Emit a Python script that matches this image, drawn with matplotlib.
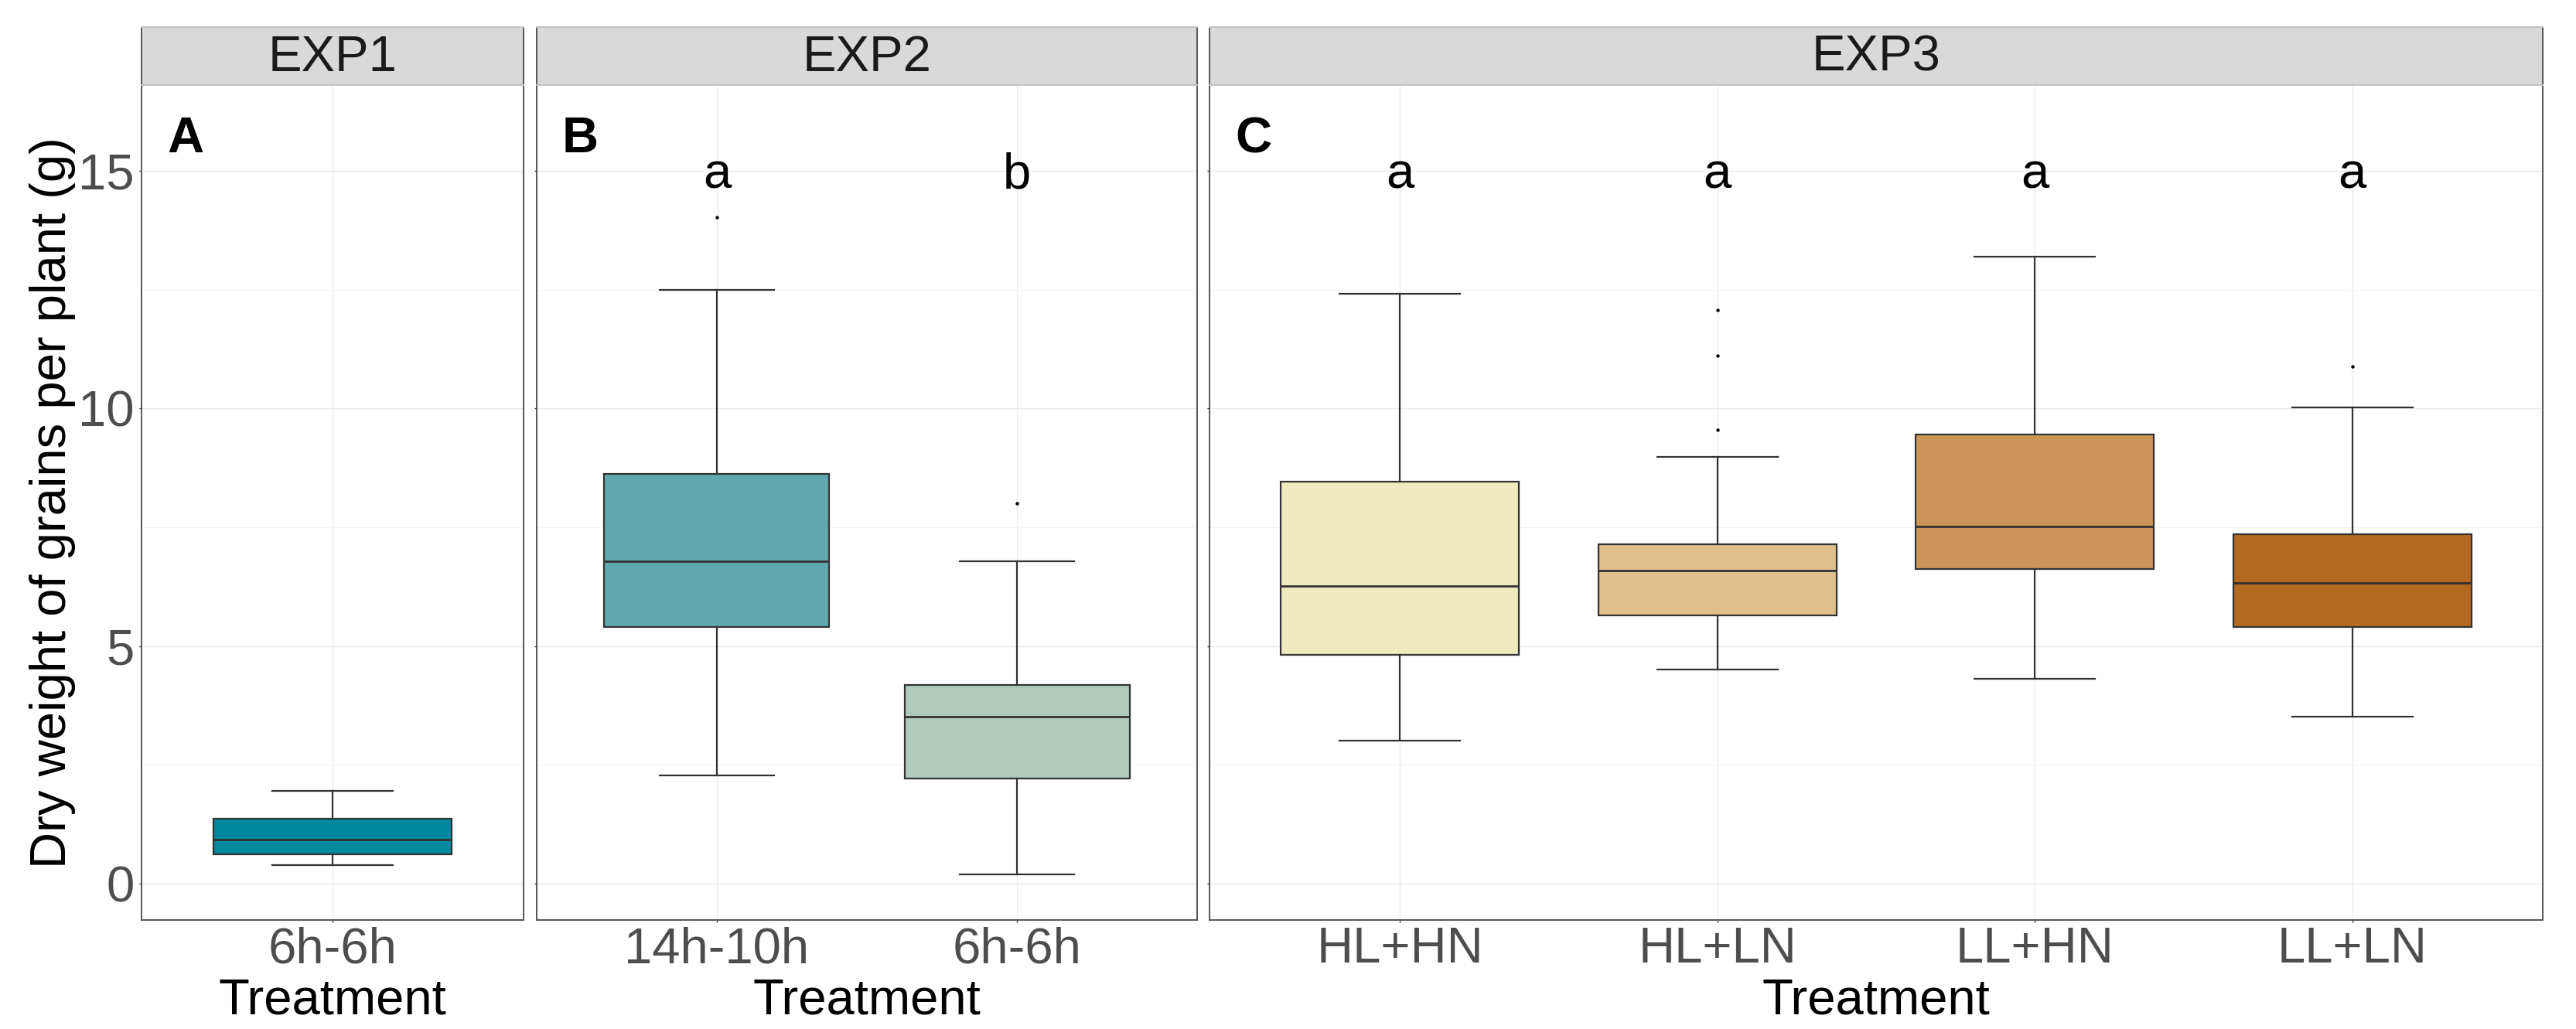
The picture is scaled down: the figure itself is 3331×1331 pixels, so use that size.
import matplotlib
matplotlib.use("Agg")
import matplotlib.pyplot as plt
from matplotlib.ticker import MultipleLocator

plt.rcParams["font.family"] = ["Liberation Sans", "DejaVu Sans"]

# -----------------------------
# Data
# -----------------------------

EXPERIMENTS = ["EXP1", "EXP2", "EXP3"]
PANEL_TAGS = ["A", "B", "C"]
TREATMENTS = [["6h-6h"], ["14h-10h", "6h-6h"], ["HL+HN", "HL+LN", "LL+HN", "LL+LN"]]

WHISKER_LOW = [[0.39], [2.28, 0.20], [3.01, 4.50, 4.32, 3.51]]
Q1 = [[0.62], [5.41, 2.22], [4.82, 5.64, 6.63, 5.40]]
MEDIAN = [[0.93], [6.78, 3.52], [6.26, 6.59, 7.51, 6.33]]
Q3 = [[1.36], [8.62, 4.19], [8.47, 7.14, 9.45, 7.36]]
WHISKER_HIGH = [[1.96], [12.49, 6.78], [12.42, 8.99, 13.19, 10.03]]
OUTLIERS = [[[]], [[14.02], [8.01]], [[], [9.56, 11.12, 12.07], [], [10.88]]]

SIG_LETTERS = [[], ["a", "b"], ["a", "a", "a", "a"]]
SIG_Y = 14.63

# -----------------------------
# Style
# -----------------------------

BOX_COLORS = [["#00889F"], ["#5FA8AE", "#AFC9BA"],
              ["#EEEBC0", "#DFBF8C", "#CC9456", "#B3691F"]]

W, H = 3331, 1331
PANEL_X = [(183, 677), (694, 1548), (1564, 3288)]
PANEL_TOP, PANEL_BOTTOM = 110, 1190
STRIP_TOP = 35
Y_LIM = (-0.765, 16.81)
FS = 47
EDGE = "#333333"
BORDER = "#555555"


def px_rect(x0, x1, top, bottom):
    return [x0 / W, 1 - bottom / H, (x1 - x0) / W, (bottom - top) / H]


fig = plt.figure(figsize=(W / 100, H / 100), dpi=100)

for i, exp in enumerate(EXPERIMENTS):
    x0, x1 = PANEL_X[i]
    ax = fig.add_axes(px_rect(x0, x1, PANEL_TOP, PANEL_BOTTOM))
    n = len(TREATMENTS[i])
    positions = list(range(1, n + 1))

    stats = []
    for j in range(n):
        stats.append(dict(whislo=WHISKER_LOW[i][j], q1=Q1[i][j], med=MEDIAN[i][j],
                          q3=Q3[i][j], whishi=WHISKER_HIGH[i][j], fliers=OUTLIERS[i][j]))

    bp = ax.bxp(stats, positions=positions, widths=0.75, capwidths=0.38,
                patch_artist=True, manage_ticks=False,
                boxprops=dict(edgecolor=EDGE, linewidth=1.6),
                medianprops=dict(color=EDGE, linewidth=2.0),
                whiskerprops=dict(color=EDGE, linewidth=1.6),
                capprops=dict(color=EDGE, linewidth=1.6),
                flierprops=dict(marker="o", markersize=2.2, markerfacecolor="black",
                                markeredgecolor="black", linestyle="none"))
    for patch, color in zip(bp["boxes"], BOX_COLORS[i]):
        patch.set_facecolor(color)

    ax.set_xlim(0.4, n + 0.6)
    ax.set_ylim(*Y_LIM)
    ax.set_xticks(positions)
    ax.set_xticklabels(TREATMENTS[i])
    ax.yaxis.set_major_locator(MultipleLocator(5))
    ax.yaxis.set_minor_locator(MultipleLocator(2.5))
    ax.set_axisbelow(True)
    ax.grid(which="major", color="#EBEBEB", linewidth=1.0)
    ax.grid(which="minor", axis="y", color="#F2F2F2", linewidth=0.6)

    ax.tick_params(axis="both", which="major", length=2.2, width=1.0, color=EDGE,
                   labelsize=FS, labelcolor="#4D4D4D")
    ax.tick_params(axis="x", pad=3.6)
    ax.tick_params(axis="y", pad=4.3)
    ax.tick_params(which="minor", length=0)
    if i > 0:
        ax.tick_params(axis="y", labelleft=False)
    for spine in ax.spines.values():
        spine.set_color(BORDER)
        spine.set_linewidth(1.4)

    # panel tag
    ax.text(33 / (x1 - x0), 15.39, PANEL_TAGS[i], transform=ax.get_yaxis_transform(),
            ha="left", va="baseline", fontsize=FS, fontweight="bold", color="black")

    # significance letters
    for pos, letter in zip(positions, SIG_LETTERS[i]):
        ax.text(pos, SIG_Y, letter, ha="center", va="baseline", fontsize=FS, color="black")

    # facet strip
    sax = fig.add_axes(px_rect(x0, x1, STRIP_TOP, PANEL_TOP))
    sax.set_facecolor("#D9D9D9")
    sax.set_xticks([])
    sax.set_yticks([])
    for name, spine in sax.spines.items():
        spine.set_linewidth(1.4)
        spine.set_color(BORDER if name in ("left", "right") else "#C4C4C4")
    sax.text(0.5, 18 / 75, exp, ha="center", va="baseline", fontsize=FS, color="#1A1A1A",
             transform=sax.transAxes)

    # x axis title
    fig.text((x0 + x1) / 2 / W, 1 - 1312 / H, "Treatment", ha="center", va="baseline",
             fontsize=FS, color="black")

fig.text(68 / W, 1 - 650 / H, "Dry weight of grains per plant (g)", rotation=90,
         ha="center", va="center", fontsize=FS, color="black")

fig.savefig("out.png", dpi=100, facecolor="white")
